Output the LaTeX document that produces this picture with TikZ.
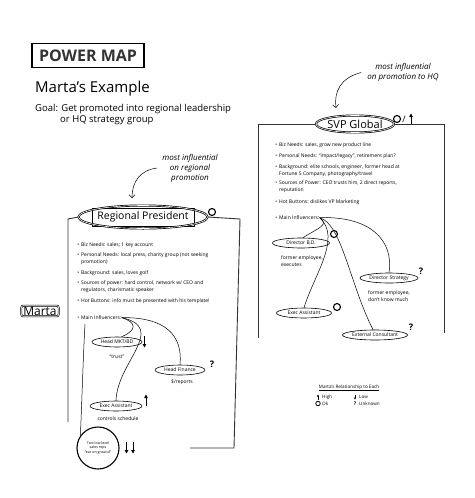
\documentclass[tikz,border=0pt]{standalone}
\usepackage{fontspec}
\setmainfont{Open Sans}
\usetikzlibrary{shapes.geometric,arrows.meta}

\tikzset{
  frame/.style = {line width=0.9pt, draw=black!80},
  banner/.style = {draw, ellipse, line width=0.7pt, double, double distance=0.6pt, inner sep=0pt},
  item/.style = {anchor=north west, inner sep=0pt, align=left, font=\fontsize{5}{7}\selectfont},
  infl/.style = {draw, ellipse, line width=0.6pt, inner sep=0pt, minimum height=10pt, font=\fontsize{5}{6}\selectfont},
  small/.style = {inner sep=0pt, align=left, font=\fontsize{5}{7}\selectfont},
  note/.style = {inner sep=0pt, align=center, font=\fontsize{8}{10}\selectfont\itshape},
  link/.style = {line width=0.5pt},
  notearrow/.style = {line width=0.5pt, -{Straight Barb[length=3pt,width=6pt]}},
  okmark/.style = {draw, circle, line width=1.1pt, minimum size=7pt, inner sep=0pt},
  qmark/.style = {inner sep=0pt, font=\fontsize{9}{9}\selectfont\bfseries},
  hilo/.style = {line width=1pt, -{Triangle[length=3.5pt,width=3.5pt]}},
  legend/.style = {inner sep=0pt, font=\fontsize{4.6}{6}\selectfont}
}

\begin{document}
\begin{tikzpicture}[x=1pt, y=-1pt]
\useasboundingbox (0,0) rectangle (474,498);

% heading
\node[draw, line width=1.2pt, minimum width=112pt, minimum height=24pt, inner sep=0pt,
  font=\fontsize{16}{16}\selectfont\bfseries, text=black!80] (title) at (88,55.5) {POWER MAP};
\node[anchor=base west, inner sep=0pt, font=\fontsize{15}{16}\selectfont] (example) at (35,92) {Marta’s Example};
\node[anchor=base west, inner sep=0pt, font=\fontsize{9.5}{11}\selectfont] (goal) at (35,111) {Goal: Get promoted into regional leadership};
\node[anchor=base west, inner sep=0pt, font=\fontsize{9.5}{11}\selectfont] (goal2) at (60,122) {or HQ strategy group};

% SVP Global
\node[note] (hqnote) at (403,72.5) {most influential\\on promotion to HQ};
\coordinate (hqtip) at (336,108);
\draw[notearrow] ([xshift=-6pt]hqnote.west) .. controls (340,78) and (334,92) .. (hqtip);

\node[banner, minimum width=65pt, minimum height=17pt, font=\fontsize{11}{11}\selectfont] (svp) at (355,124) {SVP Global};
\draw[frame] (svp.west) -- (258,124) -- (258,338);
\draw[frame] (svp.east) -- (444,124) -- (444,333);
\node[okmark] (svpok) at (397,119) {};
\node[qmark, font=\fontsize{9}{9}\selectfont] (svpslash) at (404,119) {/};
\draw[hilo] (411,124) -- (411,113.5);

\node[item] (b1) at (279,142.5) {\llap{\textbullet\hspace{2pt}}Biz Needs: sales, grow new product line};
\node[item] (b2) at (279,153.5) {\llap{\textbullet\hspace{2pt}}Personal Needs: “impact/legacy”, retirement plan?};
\node[item] (b3) at (279,164.5) {\llap{\textbullet\hspace{2pt}}Background: elite schools, engineer, former head at\\Fortune 5 Company, photography/travel};
\node[item] (b4) at (279,180.5) {\llap{\textbullet\hspace{2pt}}Sources of Power: CEO trusts him, 2 direct reports,\\reputation};
\node[item] (b5) at (279,199.5) {\llap{\textbullet\hspace{2pt}}Hot Buttons: dislikes VP Marketing};
\node[item] (b6) at (279,215.5) {\llap{\textbullet\hspace{2pt}}Main Influencers:};

\node[infl, minimum width=57pt] (dbd) at (301,243) {Director B.D.};
\node[okmark] (dbdok) at (334,234) {};
\node[small, anchor=north west] (dbdnote) at (281,255) {former employee,\\executes};
\node[infl, minimum width=58pt] (dstrat) at (389,278) {Director Strategy};
\node[qmark] (dstratq) at (421,271) {?};
\node[small, anchor=north west] (dstratnote) at (368,290) {former employee,\\don’t know much};
\node[infl, minimum width=55pt] (ea2) at (304,313) {Exec Assistant};
\node[okmark] (ea2ok) at (337,307) {};
\node[infl, minimum width=65pt] (extc) at (375,335) {External Consultant};
\node[qmark] (extcq) at (411,327) {?};

\draw[link] (b6.east) .. controls (330,225) and (318,228) .. (dbd.70);
\draw[link] (b6.east) .. controls (370,216) and (394,240) .. (dstrat.north);
\draw[link] (b6.east) .. controls (342,238) and (314,275) .. (ea2.north);
\draw[link] (b6.east) .. controls (342,224) and (350,285) .. (extc.110);

% Regional President
\node[note] (rpnote) at (190,168) {most influential\\on regional\\promotion};
\coordinate (rptip) at (132,198);
\draw[notearrow] ([xshift=-5pt]rpnote.west) .. controls (140,170) and (132,182) .. (rptip);

\draw[line width=0.5pt] (92,208.5) rectangle (194,226);
\node[banner, minimum width=107pt, minimum height=23pt, font=\fontsize{10.5}{11}\selectfont] (rp) at (143,217) {Regional President};
\node[okmark] (rpok) at (212,212) {};
\draw[frame] (rp.west) -- (68,219) -- (68,422);
\draw[frame] (rp.east) -- (240,219) -- (234,448) -- (190,448);

\node[item] (a1) at (81,242.5) {\llap{\textbullet\hspace{2pt}}Biz Needs: sales; 1 key account};
\node[item] (a2) at (81,252.5) {\llap{\textbullet\hspace{2pt}}Personal Needs: local press, charity group (not seeking\\promotion)};
\node[item] (a3) at (81,270.5) {\llap{\textbullet\hspace{2pt}}Background: sales, loves golf};
\node[item] (a4) at (81,280.5) {\llap{\textbullet\hspace{2pt}}Sources of power: hard control, network w/ CEO and\\regulators, charismatic speaker};
\node[item] (a5) at (81,298.5) {\llap{\textbullet\hspace{2pt}}Hot Buttons: info must be presented with his template!};
\node[item] (a6) at (81,315.5) {\llap{\textbullet\hspace{2pt}}Main Influencers:};

\node[infl, minimum width=50pt] (hmkt) at (117,342) {Head MKT/BD};
\draw[hilo] (144.5,336) -- (144.5,347.5);
\node[small] (hmktnote) at (117,357) {“trust”};
\node[infl, minimum width=50pt] (hfin) at (180,370) {Head Finance};
\node[qmark] (hfinq) at (212,364) {?};
\node[small] (hfinnote) at (182,382) {\$/reports};
\node[infl, minimum width=52pt] (ea1) at (116,406) {Exec Assistant};
\draw[hilo] (146,406) -- (146,394.5);
\node[small] (ea1note) at (118,419) {controls schedule};
\node[draw, circle, line width=1.1pt, minimum size=42pt, inner sep=0pt, align=center,
  font=\fontsize{3.6}{4.6}\selectfont] (reps) at (98,448) {Two low level\\sales reps\\“ear on ground”};
\draw[hilo] (126.5,442) -- (126.5,453.5);
\draw[hilo] (133,442) -- (133,453.5);

\draw[link] (a6.east) .. controls (136,322) and (138,330) .. (hmkt.50);
\draw[link] (a6.east) .. controls (165,317) and (183,335) .. (hfin.north);
\draw[link] (a6.east) .. controls (168,328) and (117,362) .. (ea1.north);
\draw[link] (85,324) .. controls (83,360) and (82,400) .. (reps.145);

% Marta
\node[draw, rounded corners=2pt, line width=0.6pt, double, double distance=0.6pt, inner xsep=2pt, inner ysep=1pt,
  font=\fontsize{12}{12}\selectfont] (marta) at (40,311) {Marta};

% legend
\node[legend] (leghead) at (349,387) {Marta’s Relationship to Each};
\draw[line width=0.3pt] ([yshift=-1pt]leghead.south west) -- ([yshift=-1pt]leghead.south east);
\draw[line width=0.7pt, -{Triangle[length=2pt,width=2pt]}] (318,399.5) -- (318,394.5);
\node[legend, anchor=west] (leghigh) at (322,397) {High};
\draw[line width=0.7pt, -{Triangle[length=2pt,width=2pt]}] (355,394.5) -- (355,399.5);
\node[legend, anchor=west] (leglow) at (359,397) {Low};
\node[draw, circle, line width=0.8pt, minimum size=4.5pt, inner sep=0pt] (legok) at (318,403.5) {};
\node[legend, anchor=west] (legoktext) at (322,403.5) {Ok};
\node[legend, font=\fontsize{5}{6}\selectfont\bfseries] (legq) at (355,403.5) {?};
\node[legend, anchor=west] (legunk) at (359,403.5) {Unknown};
\end{tikzpicture}
\end{document}
